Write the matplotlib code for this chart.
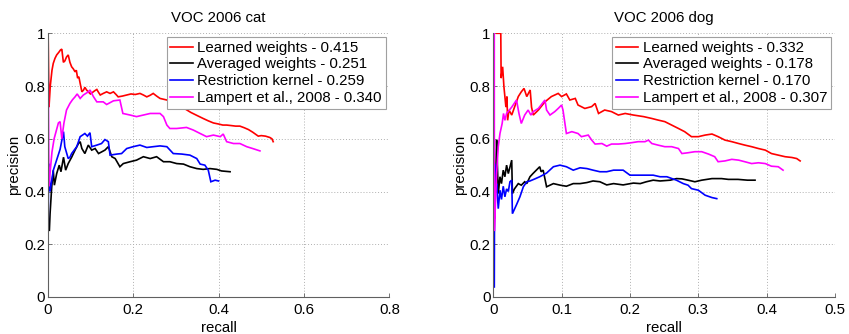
import matplotlib
matplotlib.use("Agg")
import matplotlib.pyplot as plt

plt.rcParams['font.family'] = ['Liberation Sans', 'DejaVu Sans']
FS = 10.8

# ---------------- VOC 2006 cat ----------------
cat_titles = "VOC 2006 cat"
cat_labels = ["Learned weights - 0.415", "Averaged weights - 0.251",
              "Restriction kernel - 0.259", "Lampert et al., 2008 - 0.340"]

cat_red_x = [0.001, 0.003, 0.006, 0.010, 0.013, 0.017, 0.021, 0.026, 0.030, 0.033, 0.0367, 0.040, 0.044,
             0.048, 0.052, 0.056, 0.060, 0.064, 0.067, 0.070, 0.073, 0.076, 0.080, 0.084, 0.087, 0.091,
             0.095, 0.100, 0.105, 0.110, 0.115, 0.119, 0.123, 0.130, 0.138, 0.146, 0.154, 0.160, 0.165,
             0.175, 0.185, 0.195, 0.205, 0.216, 0.224, 0.232, 0.240, 0.247, 0.255, 0.263, 0.271, 0.279,
             0.290, 0.305, 0.320, 0.335, 0.350, 0.364, 0.376, 0.388, 0.400, 0.410, 0.419, 0.430, 0.440,
             0.450, 0.460, 0.470, 0.480, 0.493, 0.500, 0.510, 0.520, 0.525, 0.528]
cat_red_y = [1.00, 0.72, 0.80, 0.86, 0.886, 0.905, 0.918, 0.928, 0.937, 0.94, 0.89, 0.895, 0.91,
             0.918, 0.89, 0.873, 0.865, 0.854, 0.86, 0.83, 0.835, 0.81, 0.778, 0.785, 0.795, 0.785,
             0.778, 0.77, 0.776, 0.782, 0.787, 0.776, 0.766, 0.772, 0.778, 0.772, 0.778, 0.768, 0.759,
             0.762, 0.766, 0.770, 0.768, 0.772, 0.766, 0.759, 0.765, 0.772, 0.762, 0.753, 0.750, 0.747,
             0.740, 0.728, 0.715, 0.700, 0.688, 0.677, 0.668, 0.660, 0.656, 0.652, 0.652, 0.650, 0.648,
             0.648, 0.642, 0.635, 0.625, 0.610, 0.612, 0.610, 0.605, 0.600, 0.589]

cat_black_x = [0.0039, 0.0055, 0.0094, 0.013, 0.0156, 0.021, 0.027, 0.031, 0.037, 0.042, 0.048, 0.056,
               0.064, 0.072, 0.076, 0.080, 0.087, 0.095, 0.103, 0.111, 0.119, 0.126, 0.134, 0.142, 0.150,
               0.158, 0.169, 0.177, 0.193, 0.208, 0.224, 0.240, 0.255, 0.271, 0.286, 0.302, 0.318, 0.333,
               0.349, 0.364, 0.380, 0.396, 0.407, 0.427]
cat_black_y = [0.253, 0.316, 0.418, 0.480, 0.424, 0.468, 0.500, 0.475, 0.530, 0.481, 0.506, 0.530,
               0.557, 0.582, 0.589, 0.563, 0.544, 0.576, 0.557, 0.563, 0.544, 0.550, 0.557, 0.570, 0.532,
               0.525, 0.494, 0.506, 0.513, 0.519, 0.532, 0.525, 0.532, 0.513, 0.513, 0.506, 0.504, 0.494,
               0.487, 0.484, 0.487, 0.484, 0.478, 0.475]

cat_blue_x = [0.0005, 0.002, 0.0055, 0.013, 0.021, 0.029, 0.037, 0.040, 0.048, 0.052, 0.056, 0.068, 0.076,
              0.087, 0.093, 0.099, 0.103, 0.115, 0.126, 0.134, 0.142, 0.146, 0.162, 0.173, 0.185, 0.200,
              0.216, 0.232, 0.247, 0.263, 0.279, 0.294, 0.314, 0.333, 0.349, 0.357, 0.368, 0.376, 0.382,
              0.392, 0.400]
cat_blue_y = [0.089, 0.506, 0.400, 0.480, 0.520, 0.560, 0.627, 0.570, 0.525, 0.530, 0.544, 0.570, 0.608,
              0.620, 0.610, 0.623, 0.570, 0.576, 0.582, 0.597, 0.589, 0.538, 0.542, 0.544, 0.563, 0.570,
              0.576, 0.567, 0.570, 0.573, 0.570, 0.544, 0.542, 0.538, 0.525, 0.504, 0.500, 0.481, 0.437,
              0.443, 0.440]

cat_mag_x = [0.0005, 0.003, 0.006, 0.010, 0.015, 0.020, 0.025, 0.029, 0.033, 0.038, 0.044, 0.052, 0.058,
             0.064, 0.069, 0.076, 0.0835, 0.095, 0.099, 0.107, 0.115, 0.130, 0.138, 0.154, 0.169, 0.176,
             0.193, 0.208, 0.224, 0.240, 0.263, 0.271, 0.279, 0.286, 0.302, 0.325, 0.341, 0.357, 0.372,
             0.388, 0.404, 0.411, 0.419, 0.435, 0.450, 0.466, 0.480, 0.497]
cat_mag_y = [1.00, 0.420, 0.480, 0.550, 0.600, 0.630, 0.660, 0.665, 0.600, 0.660, 0.709, 0.734, 0.748,
             0.759, 0.770, 0.753, 0.766, 0.778, 0.785, 0.760, 0.740, 0.740, 0.730, 0.744, 0.747, 0.696,
             0.690, 0.684, 0.690, 0.696, 0.696, 0.684, 0.652, 0.639, 0.639, 0.643, 0.633, 0.620, 0.608,
             0.614, 0.608, 0.618, 0.589, 0.582, 0.582, 0.570, 0.563, 0.554]

# ---------------- VOC 2006 dog ----------------
dog_titles = "VOC 2006 dog"
dog_labels = ["Learned weights - 0.332", "Averaged weights - 0.178",
              "Restriction kernel - 0.170", "Lampert et al., 2008 - 0.307"]

dog_red_x = [0.005, 0.011, 0.0115, 0.0137, 0.0156, 0.0185, 0.020, 0.021, 0.023, 0.027, 0.0366, 0.041,
             0.045, 0.049, 0.054, 0.056, 0.0585, 0.066, 0.0756, 0.085, 0.095, 0.100, 0.107, 0.112, 0.120,
             0.124, 0.134, 0.144, 0.149, 0.154, 0.163, 0.173, 0.183, 0.193, 0.205, 0.220, 0.232, 0.241,
             0.251, 0.261, 0.271, 0.280, 0.290, 0.300, 0.310, 0.320, 0.329, 0.339, 0.349, 0.359, 0.368,
             0.378, 0.388, 0.398, 0.407, 0.417, 0.427, 0.437, 0.444, 0.449]
dog_red_y = [1.00, 1.00, 0.830, 0.873, 0.797, 0.720, 0.760, 0.670, 0.709, 0.690, 0.760, 0.778,
             0.791, 0.760, 0.785, 0.720, 0.690, 0.709, 0.740, 0.760, 0.772, 0.760, 0.770, 0.747, 0.753,
             0.728, 0.715, 0.722, 0.734, 0.696, 0.709, 0.703, 0.690, 0.696, 0.690, 0.684, 0.677, 0.671,
             0.665, 0.652, 0.639, 0.627, 0.608, 0.608, 0.614, 0.618, 0.608, 0.595, 0.589, 0.582, 0.576,
             0.570, 0.563, 0.557, 0.544, 0.538, 0.532, 0.529, 0.525, 0.516]

dog_black_x = [0.002, 0.004, 0.0049, 0.0073, 0.0098, 0.012, 0.0146, 0.017, 0.0195, 0.022, 0.027, 0.028,
               0.031, 0.0366, 0.041, 0.046, 0.049, 0.0537, 0.058, 0.063, 0.068, 0.070, 0.073, 0.078,
               0.083, 0.088, 0.098, 0.107, 0.117, 0.127, 0.137, 0.146, 0.156, 0.166, 0.176, 0.190, 0.205,
               0.215, 0.224, 0.234, 0.244, 0.259, 0.268, 0.276, 0.285, 0.295, 0.305, 0.320, 0.334, 0.344,
               0.358, 0.372, 0.383]
dog_black_y = [0.300, 0.500, 0.595, 0.392, 0.456, 0.430, 0.481, 0.456, 0.500, 0.468, 0.519, 0.392,
               0.410, 0.430, 0.424, 0.437, 0.430, 0.456, 0.468, 0.481, 0.494, 0.475, 0.481, 0.418,
               0.424, 0.430, 0.424, 0.420, 0.430, 0.430, 0.434, 0.440, 0.437, 0.425, 0.430, 0.425, 0.432,
               0.430, 0.437, 0.443, 0.440, 0.443, 0.449, 0.448, 0.443, 0.437, 0.443, 0.449, 0.449, 0.446,
               0.446, 0.443, 0.443]

dog_blue_x = [0.0015, 0.002, 0.004, 0.0049, 0.0073, 0.0098, 0.012, 0.0146, 0.017, 0.0195, 0.022, 0.0244,
              0.027, 0.028, 0.034, 0.039, 0.044, 0.049, 0.0537, 0.061, 0.068, 0.078, 0.088, 0.0976, 0.107,
              0.117, 0.127, 0.137, 0.146, 0.156, 0.166, 0.176, 0.190, 0.200, 0.215, 0.234, 0.244, 0.254,
              0.268, 0.278, 0.285, 0.290, 0.300, 0.310, 0.320, 0.327]
dog_blue_y = [0.038, 0.506, 0.400, 0.430, 0.335, 0.405, 0.370, 0.420, 0.380, 0.410, 0.400, 0.437,
              0.443, 0.316, 0.350, 0.380, 0.418, 0.437, 0.440, 0.448, 0.456, 0.470, 0.494, 0.500, 0.494,
              0.481, 0.490, 0.487, 0.481, 0.475, 0.475, 0.481, 0.481, 0.462, 0.462, 0.462, 0.456, 0.456,
              0.443, 0.430, 0.424, 0.411, 0.405, 0.386, 0.377, 0.373]

dog_mag_x = [0.0015, 0.0016, 0.0034, 0.0049, 0.0073, 0.0098, 0.013, 0.015, 0.017, 0.0195, 0.027, 0.034,
             0.0376, 0.041, 0.046, 0.051, 0.055, 0.0585, 0.066, 0.0756, 0.078, 0.083, 0.090, 0.095, 0.100,
             0.102, 0.107, 0.115, 0.124, 0.129, 0.139, 0.144, 0.149, 0.159, 0.166, 0.173, 0.183, 0.193,
             0.202, 0.212, 0.222, 0.227, 0.232, 0.241, 0.251, 0.261, 0.271, 0.276, 0.285, 0.295, 0.305,
             0.315, 0.324, 0.329, 0.339, 0.349, 0.359, 0.368, 0.378, 0.388, 0.398, 0.407, 0.417, 0.424]
dog_mag_y = [1.00, 0.250, 0.367, 0.468, 0.570, 0.620, 0.658, 0.696, 0.670, 0.696, 0.720, 0.747,
             0.696, 0.658, 0.690, 0.709, 0.690, 0.703, 0.715, 0.747, 0.709, 0.690, 0.703, 0.715, 0.728,
             0.709, 0.620, 0.627, 0.620, 0.608, 0.614, 0.595, 0.580, 0.582, 0.572, 0.580, 0.580, 0.582,
             0.585, 0.589, 0.589, 0.595, 0.582, 0.576, 0.570, 0.570, 0.563, 0.544, 0.547, 0.551, 0.551,
             0.542, 0.532, 0.513, 0.516, 0.522, 0.519, 0.513, 0.506, 0.509, 0.506, 0.496, 0.494, 0.481]

colors = ['#ff0000', '#000000', '#0000ff', '#ff00ff']
y_ticks = [0, 0.2, 0.4, 0.6, 0.8, 1]
y_tick_labels = ["0", "0.2", "0.4", "0.6", "0.8", "1"]
cat_x_ticks = [0, 0.2, 0.4, 0.6, 0.8]
cat_x_tick_labels = ["0", "0.2", "0.4", "0.6", "0.8"]
dog_x_ticks = [0, 0.1, 0.2, 0.3, 0.4, 0.5]
dog_x_tick_labels = ["0", "0.1", "0.2", "0.3", "0.4", "0.5"]

fig = plt.figure(figsize=(8.49, 3.34), dpi=100)
ax1 = fig.add_axes([0.0562, 0.1108, 0.4024, 0.7895])
ax2 = fig.add_axes([0.5810, 0.1108, 0.4025, 0.7895])

def style(ax, title, series, labels, xt, xtl):
    handles = []
    for (xs, ys), c, lab in zip(series, colors, labels):
        h, = ax.plot(xs, ys, color=c, lw=1.2, label=lab, solid_joinstyle='miter')
        handles.append(h)
    ax.set_xlim(xt[0], xt[-1])
    ax.set_ylim(0, 1)
    ax.set_xticks(xt)
    ax.set_xticklabels(xtl)
    ax.set_yticks(y_ticks)
    ax.set_yticklabels(y_tick_labels)
    ax.grid(True, linestyle=(0, (1, 2)), color='#b0b0b0', lw=0.7)
    ax.set_axisbelow(True)
    for s in ['top', 'right']:
        ax.spines[s].set_visible(False)
    for s in ['left', 'bottom']:
        ax.spines[s].set_color('#606060')
        ax.spines[s].set_linewidth(0.8)
    ax.tick_params(direction='in', length=3, width=0.6, colors='#606060', labelcolor='black',
                   labelsize=FS, pad=2)
    ax.tick_params(axis='x', pad=4)
    ax.set_title(title, fontsize=FS, pad=8)
    ax.set_xlabel("recall", fontsize=FS, labelpad=3)
    ax.set_ylabel("precision", fontsize=FS, labelpad=2)
    leg = ax.legend(handles=handles, loc='upper right', fontsize=FS, fancybox=False,
                    framealpha=1, edgecolor='#a0a0a0', borderpad=0.25, labelspacing=0.18,
                    handlelength=1.5, handletextpad=0.3, borderaxespad=0.25)
    leg.get_frame().set_linewidth(0.8)

style(ax1, cat_titles,
      [(cat_red_x, cat_red_y), (cat_black_x, cat_black_y), (cat_blue_x, cat_blue_y), (cat_mag_x, cat_mag_y)],
      cat_labels, cat_x_ticks, cat_x_tick_labels)
style(ax2, dog_titles,
      [(dog_red_x, dog_red_y), (dog_black_x, dog_black_y), (dog_blue_x, dog_blue_y), (dog_mag_x, dog_mag_y)],
      dog_labels, dog_x_ticks, dog_x_tick_labels)

fig.savefig("out.png", dpi=100)
